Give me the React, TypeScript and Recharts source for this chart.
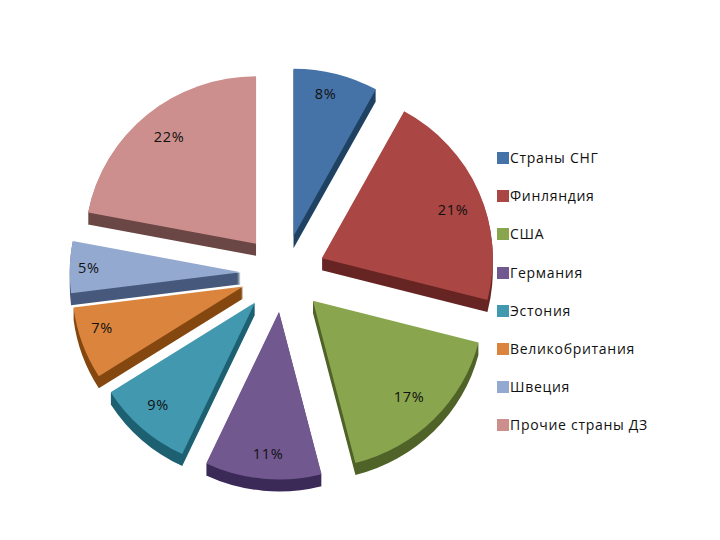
import { PieChart, Pie, Cell, Legend } from 'recharts';

const countries = ['Страны СНГ', 'Финляндия', 'США', 'Германия', 'Эстония', 'Великобритания', 'Швеция', 'Прочие страны ДЗ'];
const shares = [8, 21, 17, 11, 9, 7, 5, 22];
const topColors = ['#4573A7', '#AA4644', '#89A54E', '#71588F', '#4298AF', '#DB843D', '#93A9CF', '#CC8F8D'];
const sideColors = ['#1F4263', '#662422', '#4F6228', '#3B2A57', '#1D6072', '#83470F', '#46597C', '#6A4645'];

// where each percent label sits, measured from the tip of its slice
const labelRadius = [146, 140, 136, 142, 141, 147, 152, 138];
const labelTurn = [-1.7, 3, 0, -1, 2, 3.6, 0, 0.5];

const chartData = countries.map((name, i) => ({ name, value: shares[i], side: sideColors[i] }));

const RADIAN = Math.PI / 180;
const SQUASH = 0.98; // the pie is seen slightly from above
const DEPTH = 12;
const EXPLODE_X = 42.3;
const EXPLODE_Y = 38.5;

const FONT = '"Open Sans", sans-serif';

const tipOf = (cx: number, cy: number, angle: number) => ({
  x: cx + EXPLODE_X * Math.cos(angle * RADIAN),
  y: cy - EXPLODE_Y * Math.sin(angle * RADIAN),
});

const slicePath = (x: number, y: number, r: number, start: number, end: number) => {
  const ry = r * SQUASH;
  const x1 = x + r * Math.cos(start * RADIAN);
  const y1 = y - ry * Math.sin(start * RADIAN);
  const x2 = x + r * Math.cos(end * RADIAN);
  const y2 = y - ry * Math.sin(end * RADIAN);
  const large = Math.abs(start - end) > 180 ? 1 : 0;
  return `M${x},${y}L${x1},${y1}A${r},${ry} 0 ${large} 1 ${x2},${y2}Z`;
};

const ExplodedSlice = (props: any) => {
  const { cx, cy, startAngle, endAngle, outerRadius, fill, side } = props;
  const mid = (startAngle + endAngle) / 2;
  const tip = tipOf(cx, cy, mid);
  let wall = '';
  for (let i = 1; i <= DEPTH; i++) {
    wall += slicePath(tip.x, tip.y + i, outerRadius, startAngle, endAngle);
  }
  return (
    <g>
      <path d={wall} fill={side} />
      <path d={slicePath(tip.x, tip.y, outerRadius, startAngle, endAngle)} fill={fill} />
    </g>
  );
};

const renderPercent = (props: any) => {
  const { cx, cy, midAngle, index, value } = props;
  const tip = tipOf(cx, cy, midAngle);
  const a = (midAngle - labelTurn[index]) * RADIAN;
  const r = labelRadius[index];
  return (
    <text
      x={tip.x + r * Math.cos(a)}
      y={tip.y - r * Math.sin(a)}
      fill="#111"
      fontSize={14.5}
      letterSpacing={0.7}
      fontFamily={FONT}
      textAnchor="middle"
      dominantBaseline="central"
    >
      {`${value}%`}
    </text>
  );
};

const renderLegend = () => (
  <div style={{ fontFamily: FONT, fontSize: 14, letterSpacing: 0.7, color: '#111', lineHeight: '38.2px' }}>
    {countries.map((name, i) => (
      <div key={name} style={{ display: 'flex', alignItems: 'center', height: 38.2 }}>
        <span style={{ width: 12, height: 12, marginRight: 1, background: topColors[i] }} />
        <span style={{ whiteSpace: 'nowrap' }}>{name}</span>
      </div>
    ))}
  </div>
);

export default function App() {
  return (
    <div style={{ position: 'absolute', left: 0, top: 0, width: 720, height: 540, background: '#fff' }}>
      <PieChart width={720} height={540} margin={{ top: 0, right: 0, bottom: 0, left: 0 }}>
        <Pie
          data={chartData}
          dataKey="value"
          nameKey="name"
          cx={283}
          cy={273.5}
          innerRadius={0}
          outerRadius={171}
          startAngle={90}
          endAngle={-270}
          stroke="none"
          isAnimationActive={false}
          shape={ExplodedSlice}
          label={renderPercent}
          labelLine={false}
        >
          {chartData.map((entry, i) => (
            <Cell key={entry.name} fill={topColors[i]} />
          ))}
        </Pie>
        <Legend
          content={renderLegend}
          layout="vertical"
          wrapperStyle={{ position: 'absolute', left: 497, top: 139, width: 200, bottom: 'auto', right: 'auto' }}
        />
      </PieChart>
    </div>
  );
}
